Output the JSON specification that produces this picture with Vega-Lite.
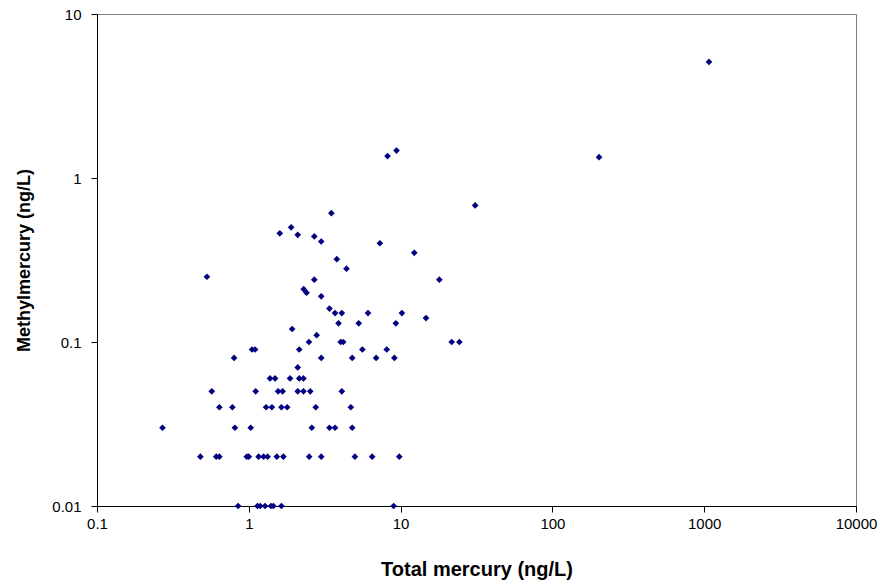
{
  "$schema": "https://vega.github.io/schema/vega-lite/v6.json",
  "width": 759,
  "height": 492,
  "autosize": "none",
  "padding": {"left": 97, "top": 14, "right": 28, "bottom": 78},
  "background": "white",
  "config": {
    "view": {"stroke": "#808080", "strokeWidth": 1},
    "font": "Liberation Sans",
    "axis": {
      "grid": false,
      "domainColor": "black",
      "tickColor": "black",
      "labelColor": "black",
      "titleColor": "black",
      "labelFont": "Liberation Sans",
      "titleFont": "Liberation Sans",
      "labelFontSize": 15,
      "titleFontSize": 18,
      "titleFontWeight": "bold",
      "tickSize": 6
    }
  },
  "data": {
    "values": [
      {"total": 0.85, "methyl": 0.01}, {"total": 1.14, "methyl": 0.01}, {"total": 1.19, "methyl": 0.01}, {"total": 1.28, "methyl": 0.01},
      {"total": 1.40, "methyl": 0.01}, {"total": 1.45, "methyl": 0.01}, {"total": 1.64, "methyl": 0.01}, {"total": 9.0, "methyl": 0.01},
      {"total": 0.48, "methyl": 0.02}, {"total": 0.61, "methyl": 0.02}, {"total": 0.64, "methyl": 0.02}, {"total": 0.97, "methyl": 0.02},
      {"total": 1.0, "methyl": 0.02}, {"total": 1.16, "methyl": 0.02}, {"total": 1.25, "methyl": 0.02}, {"total": 1.33, "methyl": 0.02},
      {"total": 1.53, "methyl": 0.02}, {"total": 1.69, "methyl": 0.02}, {"total": 2.5, "methyl": 0.02}, {"total": 3.0, "methyl": 0.02},
      {"total": 5.0, "methyl": 0.02}, {"total": 6.5, "methyl": 0.02}, {"total": 9.8, "methyl": 0.02},
      {"total": 0.27, "methyl": 0.03}, {"total": 0.81, "methyl": 0.03}, {"total": 1.03, "methyl": 0.03}, {"total": 2.6, "methyl": 0.03},
      {"total": 3.4, "methyl": 0.03}, {"total": 3.7, "methyl": 0.03}, {"total": 4.8, "methyl": 0.03},
      {"total": 0.64, "methyl": 0.04}, {"total": 0.78, "methyl": 0.04}, {"total": 1.30, "methyl": 0.04}, {"total": 1.42, "methyl": 0.04},
      {"total": 1.64, "methyl": 0.04}, {"total": 1.79, "methyl": 0.04}, {"total": 2.76, "methyl": 0.04}, {"total": 4.7, "methyl": 0.04},
      {"total": 0.57, "methyl": 0.05}, {"total": 1.11, "methyl": 0.05}, {"total": 1.56, "methyl": 0.05}, {"total": 1.67, "methyl": 0.05},
      {"total": 2.10, "methyl": 0.05}, {"total": 2.29, "methyl": 0.05}, {"total": 2.54, "methyl": 0.05}, {"total": 4.1, "methyl": 0.05},
      {"total": 1.38, "methyl": 0.06}, {"total": 1.49, "methyl": 0.06}, {"total": 1.87, "methyl": 0.06}, {"total": 2.15, "methyl": 0.06},
      {"total": 2.29, "methyl": 0.06},
      {"total": 2.1, "methyl": 0.07},
      {"total": 0.80, "methyl": 0.08}, {"total": 3.0, "methyl": 0.08}, {"total": 4.8, "methyl": 0.08}, {"total": 6.9, "methyl": 0.08},
      {"total": 9.1, "methyl": 0.08},
      {"total": 1.05, "methyl": 0.09}, {"total": 1.1, "methyl": 0.09}, {"total": 2.15, "methyl": 0.09}, {"total": 5.6, "methyl": 0.09},
      {"total": 8.1, "methyl": 0.09},
      {"total": 2.49, "methyl": 0.1}, {"total": 4.03, "methyl": 0.1}, {"total": 4.19, "methyl": 0.1}, {"total": 21.7, "methyl": 0.1},
      {"total": 24.4, "methyl": 0.1},
      {"total": 2.8, "methyl": 0.11},
      {"total": 1.93, "methyl": 0.12},
      {"total": 3.9, "methyl": 0.13}, {"total": 5.3, "methyl": 0.13}, {"total": 9.3, "methyl": 0.13},
      {"total": 14.7, "methyl": 0.14},
      {"total": 3.7, "methyl": 0.15}, {"total": 4.1, "methyl": 0.15}, {"total": 6.1, "methyl": 0.15}, {"total": 10.2, "methyl": 0.15},
      {"total": 3.4, "methyl": 0.16},
      {"total": 3.0, "methyl": 0.19},
      {"total": 2.4, "methyl": 0.20},
      {"total": 2.3, "methyl": 0.21},
      {"total": 2.7, "methyl": 0.24}, {"total": 18, "methyl": 0.24},
      {"total": 0.53, "methyl": 0.25},
      {"total": 4.4, "methyl": 0.28},
      {"total": 3.8, "methyl": 0.32},
      {"total": 12.3, "methyl": 0.35},
      {"total": 7.3, "methyl": 0.40},
      {"total": 3.0, "methyl": 0.41},
      {"total": 2.7, "methyl": 0.44},
      {"total": 2.1, "methyl": 0.45},
      {"total": 1.6, "methyl": 0.46},
      {"total": 1.9, "methyl": 0.50},
      {"total": 3.5, "methyl": 0.61},
      {"total": 31, "methyl": 0.68},
      {"total": 203, "methyl": 1.34},
      {"total": 8.2, "methyl": 1.36},
      {"total": 9.4, "methyl": 1.47},
      {"total": 1075, "methyl": 5.1}
    ]
  },
  "mark": {"type": "point", "shape": "diamond", "filled": true, "color": "#000080", "opacity": 1, "size": 45, "clip": false},
  "encoding": {
    "x": {
      "field": "total",
      "type": "quantitative",
      "scale": {"type": "log", "domain": [0.1, 10000], "nice": false},
      "axis": {
        "title": "Total mercury (ng/L)",
        "titleFontSize": 20,
        "values": [0.1, 1, 10, 100, 1000, 10000],
        "labelExpr": "format(datum.value, '~g')",
        "labelPadding": 4,
        "titlePadding": 28,
        "labelFlush": false,
        "labelOverlap": false
      }
    },
    "y": {
      "field": "methyl",
      "type": "quantitative",
      "scale": {"type": "log", "domain": [0.01, 10], "nice": false},
      "axis": {
        "title": "Methylmercury (ng/L)",
        "values": [0.01, 0.1, 1, 10],
        "labelExpr": "format(datum.value, '~g')",
        "labelPadding": 10,
        "titlePadding": 18,
        "labelFlush": false,
        "labelOverlap": false
      }
    }
  }
}
